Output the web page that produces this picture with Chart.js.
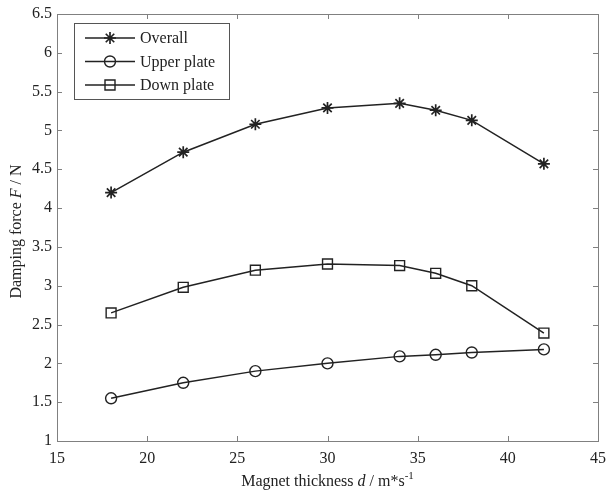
<!DOCTYPE html>
<html>
<head>
<meta charset="utf-8">
<script src="https://cdn.jsdelivr.net/npm/chart.js@4.4.0/dist/chart.umd.min.js"></script>
<style>
  html, body { margin: 0; padding: 0; background: #ffffff; }
  #wrap { width: 607px; height: 493px; }
</style>
</head>
<body>
<div id="wrap"><canvas id="chart" width="607" height="493"></canvas></div>
<script>
// values
const thickness = [18, 22, 26, 30, 34, 36, 38, 42];
const overall   = [4.20, 4.72, 5.08, 5.29, 5.35, 5.26, 5.13, 4.57];
const upper     = [1.55, 1.75, 1.90, 2.00, 2.09, 2.11, 2.14, 2.18];
const down      = [2.65, 2.98, 3.20, 3.28, 3.26, 3.16, 3.00, 2.39];
const seriesNames = ['Overall', 'Upper plate', 'Down plate'];

const serif = "'Liberation Serif', 'Times New Roman', serif";
const ink = '#222222';
const frameCol = '#808080';

function pts(vals) {
  return thickness.map((x, i) => ({ x: x, y: vals[i] }));
}

function ds(label, vals, style) {
  return {
    label: label,
    data: pts(vals),
    borderColor: ink,
    borderWidth: 1.5,
    backgroundColor: '#ffffff',
    pointStyle: style,
    pointRadius: style === 'rect' ? 7 : (style === 'star' ? 6 : 5.5),
    pointBorderColor: ink,
    pointBorderWidth: style === 'star' ? 1.7 : 1.4,
    pointBackgroundColor: 'rgba(255,255,255,0)',
    tension: 0,
    fill: false
  };
}

// little marker drawer for the legend
function marker(ctx, style, x, y) {
  ctx.save();
  ctx.strokeStyle = ink;
  ctx.lineWidth = style === 'star' ? 1.7 : 1.4;
  ctx.beginPath();
  if (style === 'circle') {
    ctx.arc(x, y, 5.5, 0, Math.PI * 2);
  } else if (style === 'rect') {
    ctx.rect(x - 5, y - 5, 10, 10);
  } else {
    for (let k = 0; k < 4; k++) {
      const a = k * Math.PI / 4;
      ctx.moveTo(x - 6 * Math.cos(a), y - 6 * Math.sin(a));
      ctx.lineTo(x + 6 * Math.cos(a), y + 6 * Math.sin(a));
    }
  }
  ctx.stroke();
  ctx.restore();
}

const framePlugin = {
  id: 'frame',
  beforeDatasetsDraw(chart) {
    const { ctx, chartArea: a, scales } = chart;
    ctx.save();
    ctx.strokeStyle = frameCol;
    ctx.lineWidth = 1;
    ctx.strokeRect(a.left + 0.5, a.top + 0.5, a.right - a.left, a.bottom - a.top);
    ctx.beginPath();
    const tl = 5;
    scales.x.ticks.forEach(t => {
      const px = Math.round(scales.x.getPixelForValue(t.value)) + 0.5;
      ctx.moveTo(px, a.bottom); ctx.lineTo(px, a.bottom - tl);
      ctx.moveTo(px, a.top); ctx.lineTo(px, a.top + tl);
    });
    scales.y.ticks.forEach(t => {
      const py = Math.round(scales.y.getPixelForValue(t.value)) + 0.5;
      ctx.moveTo(a.left, py); ctx.lineTo(a.left + tl, py);
      ctx.moveTo(a.right, py); ctx.lineTo(a.right - tl, py);
    });
    ctx.stroke();
    ctx.restore();
  },
  afterDraw(chart) {
    const { ctx, chartArea: a } = chart;
    ctx.save();
    // legend box
    const bx = a.left + 17, by = a.top + 9, bw = 155, bh = 76;
    ctx.fillStyle = '#ffffff';
    ctx.fillRect(bx, by, bw, bh);
    ctx.strokeStyle = '#555555';
    ctx.lineWidth = 1;
    ctx.strokeRect(bx + 0.5, by + 0.5, bw, bh);
    ctx.font = '16px ' + serif;
    ctx.textBaseline = 'middle';
    chart.data.datasets.forEach((d, i) => {
      const ry = by + 15 + i * 23.5;
      ctx.strokeStyle = ink;
      ctx.lineWidth = 1.5;
      ctx.beginPath();
      ctx.moveTo(bx + 11, ry); ctx.lineTo(bx + 61, ry);
      ctx.stroke();
      marker(ctx, d.pointStyle, bx + 36, ry);
      ctx.fillStyle = ink;
      ctx.textAlign = 'left';
      ctx.fillText(d.label, bx + 66, ry + 1);
    });

    // x title with italic d and superscript
    const xParts = [
      { t: 'Magnet thickness ', f: '16px ' + serif, dy: 0 },
      { t: 'd', f: 'italic 16px ' + serif, dy: 0 },
      { t: ' / m*s', f: '16px ' + serif, dy: 0 },
      { t: '-1', f: '11px ' + serif, dy: -7 }
    ];
    let w = 0;
    xParts.forEach(p => { ctx.font = p.f; w += ctx.measureText(p.t).width; });
    let x = (a.left + a.right) / 2 - w / 2;
    const base = 486;
    ctx.textAlign = 'left';
    ctx.textBaseline = 'alphabetic';
    ctx.fillStyle = ink;
    xParts.forEach(p => {
      ctx.font = p.f;
      ctx.fillText(p.t, x, base + p.dy);
      x += ctx.measureText(p.t).width;
    });

    // y title, rotated
    const yParts = [
      { t: 'Damping force ', f: '16px ' + serif },
      { t: 'F', f: 'italic 16px ' + serif },
      { t: ' / N', f: '16px ' + serif }
    ];
    w = 0;
    yParts.forEach(p => { ctx.font = p.f; w += ctx.measureText(p.t).width; });
    ctx.translate(21, (a.top + a.bottom) / 2 + 4);
    ctx.rotate(-Math.PI / 2);
    x = -w / 2;
    yParts.forEach(p => {
      ctx.font = p.f;
      ctx.fillText(p.t, x, 0);
      x += ctx.measureText(p.t).width;
    });
    ctx.restore();
  }
};

new Chart(document.getElementById('chart'), {
  type: 'line',
  data: {
    datasets: [
      ds(seriesNames[0], overall, 'star'),
      ds(seriesNames[1], upper, 'circle'),
      ds(seriesNames[2], down, 'rect')
    ]
  },
  options: {
    responsive: false,
    animation: false,
    layout: { padding: { top: 14, right: 9, left: 0, bottom: 0 } },
    plugins: {
      legend: { display: false },
      tooltip: { enabled: false }
    },
    scales: {
      x: {
        type: 'linear',
        min: 15, max: 45,
        grid: { display: false, drawTicks: false },
        border: { display: false },
        ticks: { stepSize: 5, color: ink, padding: 8, maxRotation: 0,
                 font: { family: serif, size: 16 } },
        afterFit(s) { s.height = 52; s.paddingLeft = 0; s.paddingRight = 0; }
      },
      y: {
        min: 1, max: 6.5,
        grid: { display: false, drawTicks: false },
        border: { display: false },
        ticks: { stepSize: 0.5, color: ink, padding: 5,
                 font: { family: serif, size: 16 },
                 callback: v => String(Number(v.toFixed(1))) },
        afterFit(s) { s.width = 57; s.paddingTop = 0; s.paddingBottom = 0; }
      }
    }
  },
  plugins: [framePlugin]
});
</script>
</body>
</html>
